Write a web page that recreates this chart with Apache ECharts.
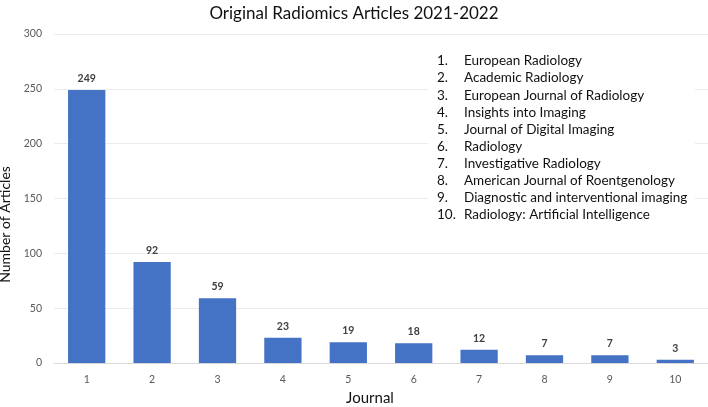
<!DOCTYPE html>
<html><head><meta charset="utf-8">
<script src="https://cdn.jsdelivr.net/npm/echarts@6/dist/echarts.min.js"></script>
<style>html,body{margin:0;padding:0;background:#fff}#c{width:708px;height:407px}</style>
</head><body><div id="c"></div>
<script>
const categories = ['1','2','3','4','5','6','7','8','9','10'];
const articles = [249, 92, 59, 23, 19, 18, 12, 7, 7, 3];
const journals = ['European Radiology','Academic Radiology','European Journal of Radiology','Insights into Imaging','Journal of Digital Imaging','Radiology','Investigative Radiology','American Journal of Roentgenology','Diagnostic and interventional imaging','Radiology: Artificial Intelligence'];

const font = 'Lato, "Open Sans", sans-serif';
const chart = echarts.init(document.getElementById('c'));
const graphics = [{type:'rect', left:428, top:50, shape:{width:267, height:180}, style:{fill:'#fff'}, z:100}];
journals.forEach((j, i) => {
  graphics.push({type:'text', left:437, top:54 + i*17.1, z:101, style:{text:(i+1)+'.', font:'13.5px ' + font, fill:'#111'}});
  graphics.push({type:'text', left:464, top:54 + i*17.1, z:101, style:{text:j, font:'13.5px ' + font, fill:'#111'}});
});
chart.setOption({
  animation:false,
  title:{text:'Original Radiomics Articles 2021-2022', left:'center', top:0, textStyle:{fontFamily:font, fontSize:17, fontWeight:'normal', color:'#111'}},
  grid:{left:54, right:0, top:34, bottom:44, outerBoundsMode:'none', containLabel:false},
  xAxis:{type:'category', data:categories, name:'Journal', nameLocation:'middle', nameGap:28,
    nameTextStyle:{fontFamily:font, fontSize:15, color:'#111', padding:[0,22,0,0]},
    axisLine:{lineStyle:{color:'#D9D9D9'}}, axisTick:{show:false},
    axisLabel:{fontFamily:font, fontSize:10.5, color:'#595959', margin:11}},
  yAxis:{type:'value', min:0, max:300, interval:50, name:'Number of Articles', nameLocation:'middle', nameGap:34,
    nameTextStyle:{fontFamily:font, fontSize:14, color:'#111', padding:[0,0,0,-52]},
    axisLabel:{fontFamily:font, fontSize:10.5, color:'#595959', margin:12},
    splitLine:{lineStyle:{color:'#EBEBEB'}}},
  series:[{type:'bar', data:articles, barCategoryGap:'43%', itemStyle:{color:'#4472C4'},
    label:{show:true, position:'top', distance:6, fontFamily:font, fontSize:10.5, fontWeight:'bold', color:'#404040'}}],
  graphic:graphics
});
</script></body></html>
